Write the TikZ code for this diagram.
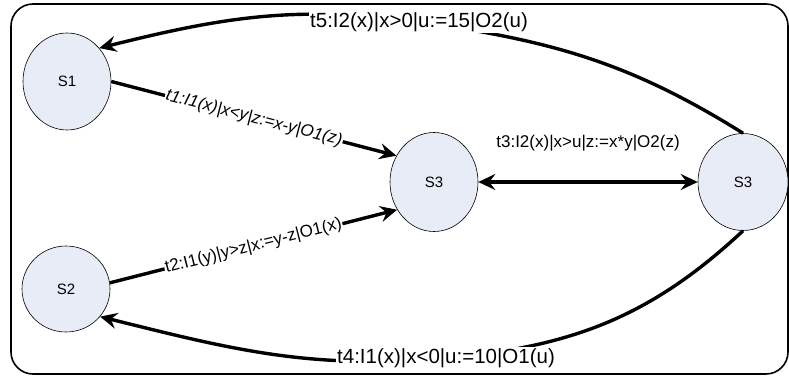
\documentclass[tikz,border=0pt]{standalone}
\usepackage{fontspec}
\setmainfont{Liberation Sans}
\usetikzlibrary{arrows.meta,shapes.geometric}
\definecolor{statefill}{RGB}{232,236,247}
\begin{document}
\begin{tikzpicture}[x=1pt,y=1pt,>={Stealth[length=17pt,width=16pt,inset=6pt]},
    state/.style={ellipse,draw=black,line width=0.6pt,fill=statefill,
      minimum width=88pt,minimum height=97pt,inner sep=0pt,
      font=\fontsize{15}{17}\selectfont},
    trans/.style={line width=3.4pt,->},
    lab/.style={fill=white,inner sep=1pt,font=\fontsize{17}{19}\selectfont},
    biglab/.style={lab,font=\fontsize{20.5}{23}\selectfont}]
  \useasboundingbox (0,0) rectangle (789,378);
  \draw[line width=1.6pt,rounded corners=22pt] (11,4) rectangle (788,374);
  \node[state] (s1) at (67,296.5) {S1};
  \node[state,minimum height=86pt] (s2) at (66,89) {S2};
  \node[state,minimum height=99pt] (s3a) at (434,196) {S3};
  \node[state,minimum width=90pt] (s3b) at (743,196) {S3};
  \coordinate (c5) at (419,356);
  \coordinate (c4) at (446,20);
  \begin{scope}[trans]
    \draw (s1.east) -- node[lab,sloped,font=\fontsize{17}{19}\selectfont\itshape]
      {t1:I1(x)|x<y|z:=x-y|O1(z)} (s3a.145);
    \draw (s2.8) -- node[lab,sloped] {t2:I1(y)|y>z|x:=y-z|O1(x)} (s3a.217);
    \draw[<->] (s3a.east) --
      node[lab,above=28pt] {t3:I2(x)|x>u|z:=x*y|O2(z)} (s3b.west);
    \draw (s3b.north) to[out=148,in=-8] node[biglab,pos=1] {t5:I2(x)|x>0|u:=15|O2(u)} (c5)
      to[out=172,in=14] (s1.46);
    \draw (s3b.south) to[out=223,in=5] node[biglab,pos=1] {t4:I1(x)|x<0|u:=10|O1(u)} (c4)
      to[out=185,in=-14] (s2.-39);
  \end{scope}
\end{tikzpicture}
\end{document}
